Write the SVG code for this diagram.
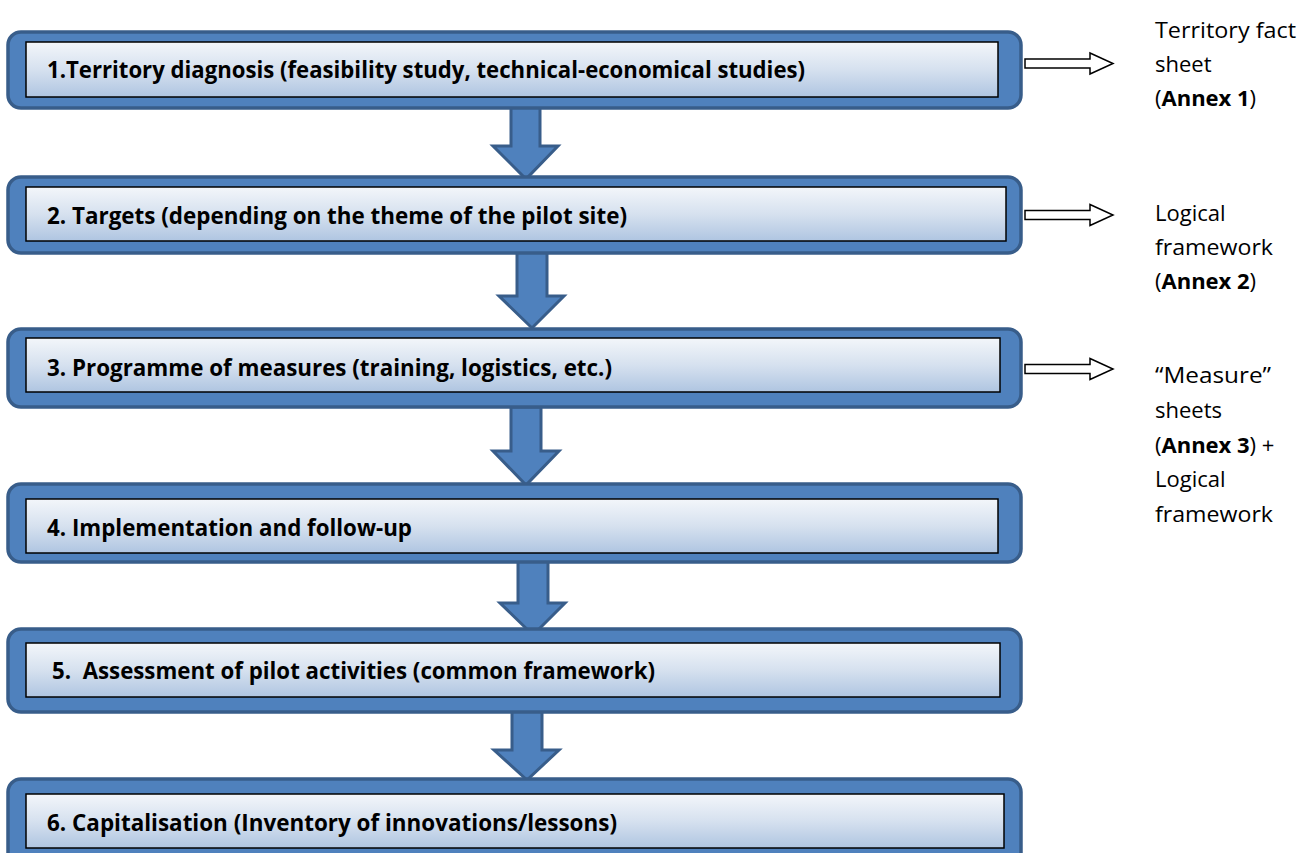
<svg xmlns="http://www.w3.org/2000/svg" width="1302" height="853" viewBox="0 0 1302 853">
<defs>
<linearGradient id="ig" x1="0" y1="0" x2="0" y2="1">
<stop offset="0" stop-color="#F3F6FA"/>
<stop offset="0.5" stop-color="#D6E1EF"/>
<stop offset="1" stop-color="#AFC5E1"/>
</linearGradient>
<style>
.outer{fill:#4F81BD;stroke:#385D8A;stroke-width:3.5}
.inner{fill:url(#ig);stroke:#000;stroke-width:1.5}
.lbl{font-family:"Open Sans","Liberation Sans",sans-serif;font-weight:bold;font-size:22.5px;fill:#000}
.down{fill:#4F81BD;stroke:#385D8A;stroke-width:3;stroke-linejoin:miter}
.side{fill:#fff;stroke:#000;stroke-width:1.5}
.note{font-family:"Open Sans","Liberation Sans",sans-serif;font-size:22px;fill:#000}
.b{font-weight:bold}
</style>
</defs>
<rect width="1302" height="853" fill="#fff"/>

<g id="connectors">
<path class="down" d="M511,106 H540 V146 H558 L526,179 L493,146 H511 Z"/>
<path class="down" d="M517,252 H547 V296 H564 L532,328 L499,296 H517 Z"/>
<path class="down" d="M511,407 H541 V451 H559 L526,485 L493,451 H511 Z"/>
<path class="down" d="M518,561 H548 V603 H565 L533,635 L500,603 H518 Z"/>
<path class="down" d="M512,711 H542 V750 H559 L527,780 L494,750 H512 Z"/>
<path class="side" d="M1025,59 H1090 V53 L1113,63.5 L1090,74 V68 H1025 Z"/>
<path class="side" d="M1025,210.5 H1090 V204.5 L1113,215 L1090,225.5 V219.5 H1025 Z"/>
<path class="side" d="M1025,364.5 H1090 V358.5 L1113,369 L1090,379.5 V373.5 H1025 Z"/>
</g>

<g id="node1">
<rect class="outer" x="8" y="32" width="1013" height="76" rx="13"/>
<rect class="inner" x="26" y="42" width="972" height="55"/>
<text class="lbl" x="47" y="78" textLength="758" lengthAdjust="spacingAndGlyphs">1.Territory diagnosis (feasibility study, technical-economical studies)</text>
</g>
<g id="node2">
<rect class="outer" x="8" y="177" width="1013" height="76" rx="13"/>
<rect class="inner" x="26" y="187" width="980" height="54"/>
<text class="lbl" x="47" y="224" textLength="580" lengthAdjust="spacingAndGlyphs">2. Targets (depending on the theme of the pilot site)</text>
</g>
<g id="node3">
<rect class="outer" x="8" y="329" width="1013" height="78" rx="13"/>
<rect class="inner" x="26" y="338" width="974" height="54"/>
<text class="lbl" x="47" y="376" textLength="565" lengthAdjust="spacingAndGlyphs">3. Programme of measures (training, logistics, etc.)</text>
</g>
<g id="node4">
<rect class="outer" x="8" y="484" width="1013" height="78" rx="13"/>
<rect class="inner" x="26" y="499" width="972" height="54"/>
<text class="lbl" x="47" y="536" textLength="365" lengthAdjust="spacingAndGlyphs">4. Implementation and follow-up</text>
</g>
<g id="node5">
<rect class="outer" x="8" y="629" width="1013" height="83" rx="13"/>
<rect class="inner" x="26" y="643" width="974" height="54"/>
<text class="lbl" x="52" y="679" textLength="603" lengthAdjust="spacingAndGlyphs" xml:space="preserve">5.  Assessment of pilot activities (common framework)</text>
</g>
<g id="node6">
<rect class="outer" x="8" y="779" width="1013" height="90" rx="13"/>
<rect class="inner" x="26" y="794" width="978" height="54"/>
<text class="lbl" x="47" y="831" textLength="570" lengthAdjust="spacingAndGlyphs">6. Capitalisation (Inventory of innovations/lessons)</text>
</g>

<g id="note1">
<text class="note" x="1155" y="38" textLength="141" lengthAdjust="spacingAndGlyphs">Territory fact</text>
<text class="note" x="1155" y="72">sheet</text>
<text class="note" x="1155" y="106">(<tspan class="b">Annex 1</tspan>)</text>
</g>
<g id="note2">
<text class="note" x="1155" y="221">Logical</text>
<text class="note" x="1155" y="255" textLength="118" lengthAdjust="spacingAndGlyphs">framework</text>
<text class="note" x="1155" y="289">(<tspan class="b">Annex 2</tspan>)</text>
</g>
<g id="note3">
<text class="note" x="1155" y="383" textLength="116" lengthAdjust="spacingAndGlyphs">“Measure”</text>
<text class="note" x="1155" y="418">sheets</text>
<text class="note" x="1155" y="453">(<tspan class="b">Annex 3</tspan>) +</text>
<text class="note" x="1155" y="487">Logical</text>
<text class="note" x="1155" y="522" textLength="118" lengthAdjust="spacingAndGlyphs">framework</text>
</g>
</svg>
